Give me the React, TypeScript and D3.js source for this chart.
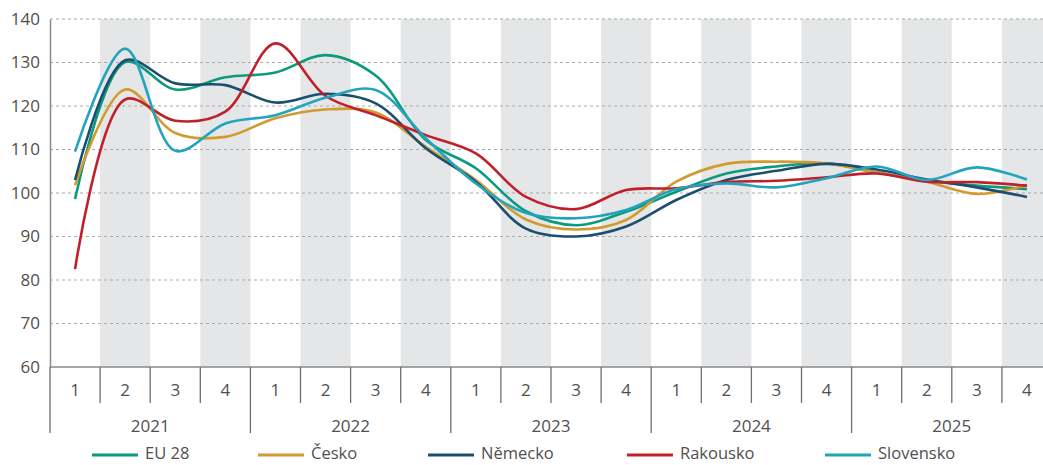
import React, { useEffect, useRef } from "react";
import * as d3 from "d3";
import { select } from "d3";

const quarters = ["1", "2", "3", "4"];
const years = ["2021", "2022", "2023", "2024", "2025"];
const yTicks = [60, 70, 80, 90, 100, 110, 120, 130, 140];

const eu28 = [98.6, 130.1, 123.8, 126.6, 127.7, 131.7, 127.0, 112.2, 105.7, 95.8, 92.6, 95.7, 100.3, 104.5, 106.1, 106.8, 104.7, 102.8, 101.7, 100.9];
const cesko = [101.8, 123.8, 113.8, 112.9, 117.2, 119.2, 118.5, 110.6, 103.0, 93.9, 91.6, 93.8, 102.6, 106.7, 107.2, 106.8, 104.7, 102.6, 99.8, 101.8];
const nemecko = [103.0, 130.5, 125.2, 124.8, 120.8, 122.8, 120.6, 110.3, 102.6, 91.8, 90.0, 92.3, 98.4, 103.0, 105.1, 106.7, 105.4, 103.1, 101.3, 99.1];
const rakousko = [82.5, 121.5, 116.6, 118.7, 134.4, 122.3, 117.9, 113.3, 109.1, 99.1, 96.3, 100.7, 101.1, 102.5, 102.8, 103.6, 104.5, 102.6, 102.5, 101.7];
const slovensko = [109.5, 133.2, 109.7, 116.0, 117.9, 121.9, 123.7, 112.6, 102.2, 95.4, 94.2, 96.1, 100.9, 102.2, 101.3, 103.4, 106.1, 103.0, 105.9, 103.1];

const seriesNames = ["EU 28", "Česko", "Německo", "Rakousko", "Slovensko"];
const seriesValues = [eu28, cesko, nemecko, rakousko, slovensko];
const colors = ["#0b9a7c", "#d19b2f", "#1b4f6e", "#c1202b", "#22a4be"];

const App = () => {
  const svgRef = useRef<SVGSVGElement>(null);

  useEffect(() => {
    document.body.style.margin = "0";
    const svg = select(svgRef.current);
    svg.selectAll("*").remove();

    const font = "'Open Sans', sans-serif";
    const textColor = "#505050";
    const margin = { top: 19, left: 50 };
    const plotRight = 1052;
    const plotBottom = 367;

    const periods: string[] = [];
    years.forEach((yr) => quarters.forEach((q) => periods.push(yr + "-" + q)));

    const x = d3.scaleBand().domain(periods).range([margin.left, plotRight]).padding(0);
    const y = d3.scaleLinear().domain([60, 140]).range([plotBottom, margin.top]);
    const cx = (i: number) => (x(periods[i]) as number) + x.bandwidth() / 2;

    // grey bands for quarters 2 and 4
    svg
      .append("g")
      .selectAll("rect")
      .data(periods.filter((p) => p.endsWith("-2") || p.endsWith("-4")))
      .enter()
      .append("rect")
      .attr("x", (d) => x(d) as number)
      .attr("y", y(140))
      .attr("width", x.bandwidth())
      .attr("height", y(60) - y(140))
      .attr("fill", "#e5e6e7");

    // dotted gridlines
    svg
      .append("g")
      .selectAll("line")
      .data(yTicks.filter((t) => t > 60))
      .enter()
      .append("line")
      .attr("x1", margin.left)
      .attr("x2", plotRight)
      .attr("y1", (d) => y(d))
      .attr("y2", (d) => y(d))
      .attr("stroke", "#a9a9a9")
      .attr("stroke-width", 1)
      .attr("stroke-dasharray", "3,3");

    // y axis
    const yAxis = svg
      .append("g")
      .attr("transform", `translate(${margin.left},0)`)
      .call(d3.axisLeft(y).tickValues(yTicks).tickSize(0).tickPadding(10));
    yAxis.select(".domain").attr("stroke", "#8a8a8a").attr("stroke-width", 1.5);
    yAxis
      .selectAll("text")
      .attr("font-family", font)
      .attr("font-size", 17)
      .attr("fill", textColor);

    // x axis baseline
    svg
      .append("line")
      .attr("x1", margin.left)
      .attr("x2", plotRight)
      .attr("y1", plotBottom)
      .attr("y2", plotBottom)
      .attr("stroke", "#8a8a8a")
      .attr("stroke-width", 1.5);

    // quarter ticks and labels
    const xg = svg.append("g");
    periods.forEach((p, i) => {
      const left = x(p) as number;
      const isYearStart = i % 4 === 0;
      xg.append("line")
        .attr("x1", left)
        .attr("x2", left)
        .attr("y1", plotBottom)
        .attr("y2", isYearStart ? 433 : 403)
        .attr("stroke", "#6e6e6e")
        .attr("stroke-width", 1.3);
      xg.append("text")
        .attr("x", cx(i))
        .attr("y", 390)
        .attr("dy", "0.35em")
        .attr("text-anchor", "middle")
        .attr("font-family", font)
        .attr("font-size", 17)
        .attr("fill", textColor)
        .text(p.split("-")[1]);
    });
    xg.append("line")
      .attr("x1", plotRight)
      .attr("x2", plotRight)
      .attr("y1", plotBottom)
      .attr("y2", 433)
      .attr("stroke", "#6e6e6e")
      .attr("stroke-width", 1.3);
    years.forEach((yr) => {
      const a = x(yr + "-1") as number;
      const b = (x(yr + "-4") as number) + x.bandwidth();
      xg.append("text")
        .attr("x", (a + b) / 2)
        .attr("y", 426)
        .attr("dy", "0.35em")
        .attr("text-anchor", "middle")
        .attr("font-family", font)
        .attr("font-size", 17)
        .attr("fill", textColor)
        .text(yr);
    });

    // lines
    const valueLine = d3
      .line<number>()
      .x((d, i) => cx(i))
      .y((d) => y(d))
      .curve(d3.curveCatmullRom.alpha(0.5));

    seriesValues.forEach((vals, k) => {
      svg
        .append("path")
        .datum(vals)
        .attr("fill", "none")
        .attr("stroke", colors[k])
        .attr("stroke-width", 2.6)
        .attr("stroke-linejoin", "round")
        .attr("d", valueLine);
    });

    // legend
    const legendX = [92, 258, 428, 627, 825];
    const legend = svg.append("g");
    seriesNames.forEach((name, k) => {
      legend
        .append("line")
        .attr("x1", legendX[k])
        .attr("x2", legendX[k] + 46)
        .attr("y1", 455)
        .attr("y2", 455)
        .attr("stroke", colors[k])
        .attr("stroke-width", 3);
      legend
        .append("text")
        .attr("x", legendX[k] + 53)
        .attr("y", 459)
        .attr("font-family", font)
        .attr("font-size", 16.5)
        .attr("fill", textColor)
        .text(name);
    });
  }, []);

  return (
    <div style={{ width: "1043px", height: "465px", overflow: "hidden" }}>
      <svg ref={svgRef} width={1043} height={465} style={{ display: "block" }}></svg>
    </div>
  );
};

export default App;
